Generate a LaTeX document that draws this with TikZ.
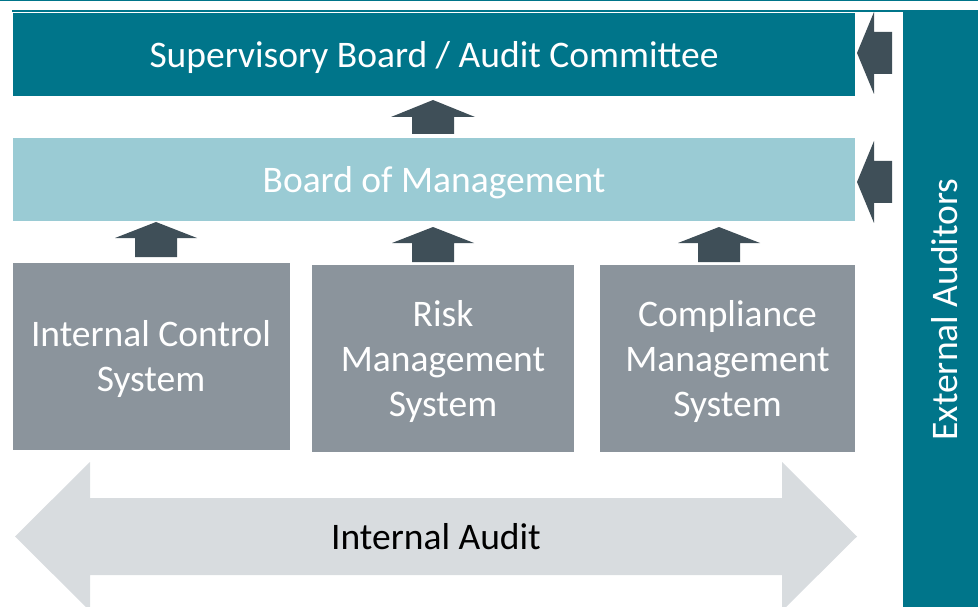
\documentclass[tikz,border=0pt]{standalone}
\usepackage{fontspec}
\setmainfont{Carlito}
\usepackage{tikz}
\usetikzlibrary{positioning}

\definecolor{supteal}{HTML}{00758A}
\definecolor{boardblue}{HTML}{9ACBD4}
\definecolor{sysgray}{HTML}{8B949C}
\definecolor{arrdark}{HTML}{3F4F58}
\definecolor{auditgray}{HTML}{D8DCDF}

\begin{document}
\begin{tikzpicture}[x=1pt,y=-1pt,
					font=\fontsize{37.5}{45}\selectfont,
					top box/.style={rectangle,fill=supteal,text=white,inner sep=0pt,text depth=0pt,minimum width=842pt,minimum height=83pt},
					board box/.style={rectangle,fill=boardblue,text=white,inner sep=0pt,text depth=0pt,minimum width=842pt,minimum height=83pt},
					sys box/.style={rectangle,fill=sysgray,text=white,align=center,inner sep=0pt,text depth=0pt,minimum height=187pt}];
					
					\useasboundingbox (0,0) rectangle (978,607);
					\fill[supteal] (0,0) rectangle (978,1.5);
					\fill[supteal] (12,10) rectangle (978,12);
					
					\node[top box] (super) at (434,54.5) {Supervisory Board / Audit Committee};
					\node[board box] (board) at (434,179.5) {Board of Management};
					\node[sys box,minimum width=277pt] (ics) at (151,356) {Internal Control\\System};
					\node[sys box,minimum width=262pt] (rms) at (443,358.5) {Risk\\Management\\System};
					\node[sys box,minimum width=255pt] (cms) at (727.5,358.5) {Compliance\\Management\\System};
					
					\node[rectangle,fill=supteal,text=white,rotate=90,inner sep=0pt,text depth=0pt,
					minimum width=595pt,minimum height=82pt] (ext) at (944,309.5) {External Auditors};
					
					% internal audit
					\fill[auditgray] (15,536.5) -- (90,462) -- (90,498) -- (782,498) -- (782,462)
					-- (857,536.5) -- (782,611) -- (782,575) -- (90,575) -- (90,611) -- cycle;
					\node[text=black] (audit) at (436,536.5) {Internal Audit};
					
					% up arrows
					\fill[arrdark] (433,100) -- (475,117) -- (454,117) -- (454,134) -- (412,134) -- (412,117) -- (391,117) -- cycle;
					\foreach \x/\t in {156/222,433/227,719/227}
					\fill[arrdark] (\x,\t) -- ++(41,16) -- ++(-20,0) -- ++(0,19) -- ++(-42,0) -- ++(0,-19) -- ++(-20,0) -- cycle;
					
					% left arrows
					\foreach \y in {53,182}
					\fill[arrdark] (857,\y) -- ++(17,-41) -- ++(0,20) -- ++(18,0) -- ++(0,42) -- ++(-18,0) -- ++(0,20) -- cycle;
					
					\end{tikzpicture}
\end{document}
